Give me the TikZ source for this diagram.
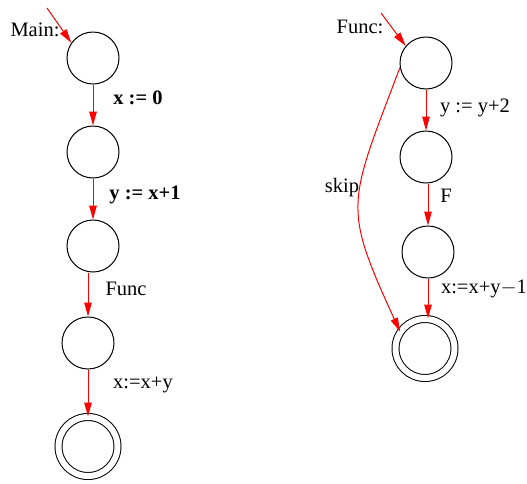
\documentclass[tikz,border=0pt]{standalone}
\usepackage{fontspec}
\setmainfont{Liberation Serif}
\usetikzlibrary{automata, positioning, arrows.meta}

\begin{document}
\begin{tikzpicture}[x=1pt, y=-1pt, ->, >={Triangle[length=14pt,width=7.5pt]}, line width=1pt,
		node distance=41pt, font=\fontsize{20.5}{24}\selectfont,
		every state/.style={circle, draw=black, minimum size=52pt, inner sep=0pt},
		finalstate/.style={state, double, double distance=6pt, minimum size=59pt},
		flow/.style={draw=red},
		lab/.style={inner sep=0pt}]
		\useasboundingbox (0,0) rectangle (527,483);
		
		% Main
		\node[state] (m1) at (93,58) {};
		\node[state] (m2) [below=of m1] {};
		\node[state] (m3) [below=of m2] {};
		\node[state] (m4) [below=44pt of m3, xshift=-5pt] {};
		\node[finalstate] (m5) [below=47pt of m4] {};
		
		\node[lab] (mainlab) at (35,30) {Main:};
		\coordinate (mstart) at (47,8);
		
		\node[lab] (lx0) at (138,98) {\textbf{x := 0}};
		\node[lab] (lyx) at (145,195) {\textbf{y := x+1}};
		\node[lab] (lfunc) at (126,289) {Func};
		\node[lab] (lxxy) at (143,385) {x:=x+y};
		
		\draw[flow] (mstart) -- (m1.145);
		\draw[flow] (m1) -- (m2);
		\draw[flow] (m2) -- (m3);
		\draw[flow] (m3.south -| m4) -- (m4);
		\draw[flow] (m4) -- (m5);
		
		% Func
		\node[state] (f1) at (426,63) {};
		\node[state] (f2) [below=41pt of f1] {};
		\node[state] (f3) [below=42pt of f2, xshift=2pt] {};
		\node[finalstate] (f4) [below=40pt of f3, xshift=-3pt] {};
		
		\node[lab] (funclab) at (360,27) {Func:};
		\coordinate (fstart) at (381,13);
		
		\node[lab] (lyy2) at (475,108) {y := y+2};
		\node[lab] (lf) at (446,196) {F};
		\node[lab] (lxy1) at (484,289) {x:=x+y$-$1};
		\node[lab] (lskip) at (342,188) {skip};
		
		\draw[flow] (fstart) -- (f1.140);
		\draw[flow] (f1) -- (f2);
		\draw[flow] (f2.south -| f3) -- (f3);
		\draw[flow] (f3) -- (f4.north -| f3);
		\draw[flow] (f1.190) .. controls (348,205) and (342,205) .. (f4.146);
		
	\end{tikzpicture}
\end{document}
